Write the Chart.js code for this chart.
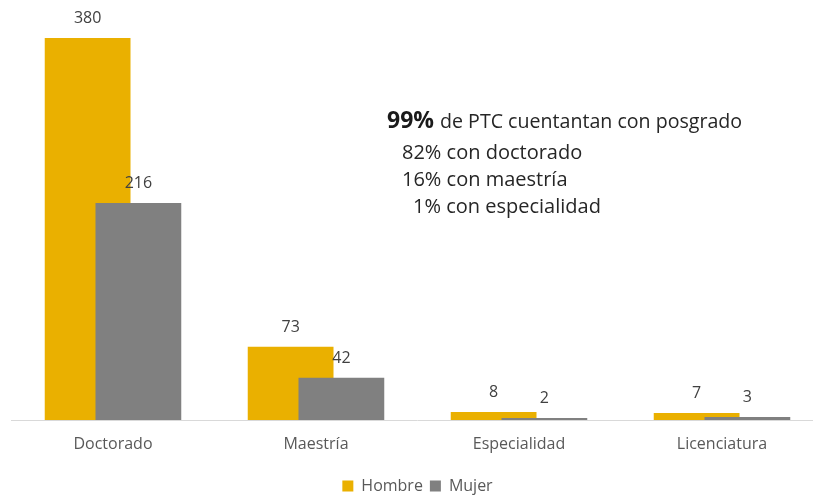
<!DOCTYPE html>
<html>
<head>
<meta charset="utf-8">
<script src="https://cdn.jsdelivr.net/npm/chart.js@4.4.1/dist/chart.umd.min.js"></script>
<style>
html,body{margin:0;padding:0;background:#fff;overflow:hidden;width:813px;height:497px}
#wrap{width:824px;height:504px;position:relative}
</style>
</head>
<body>
<div id="wrap"><canvas id="c" width="824" height="504"></canvas></div>
<script>
// ---- data ----
const categories = ['Doctorado', 'Maestría', 'Especialidad', 'Licenciatura'];
const seriesNames = ['Hombre', 'Mujer'];
const hombre = [380, 73, 8, 7];
const mujer = [216, 42, 2, 3];
const noteHeadline = '99%';
const noteHeadlineRest = 'de PTC cuentantan con posgrado';
const noteLines = ['82% con doctorado', '16% con maestría', '1% con especialidad'];

// ---- styles ----
const colHombre = 'rgb(234,176,0)';
const colMujer = 'rgb(128,128,128)';
const FONT = '"Open Sans", "Noto Sans", sans-serif';

Chart.defaults.font.family = FONT;

// Draw datasets in forward order so the second series lies over the first
const drawOrder = {
  id: 'drawOrder',
  beforeDatasetsDraw(chart) {
    const metas = chart.getSortedVisibleDatasetMetas();
    for (const m of metas) m.controller.draw();
    return false;
  }
};

const valueLabels = {
  id: 'valueLabels',
  afterDraw(chart) {
    const ctx = chart.ctx;
    ctx.save();
    ctx.font = '16px ' + FONT;
    ctx.fillStyle = '#404040';
    ctx.textAlign = 'center';
    ctx.textBaseline = 'middle';
    chart.data.datasets.forEach((ds, i) => {
      const meta = chart.getDatasetMeta(i);
      meta.data.forEach((el, j) => {
        ctx.fillText(String(ds.data[j]), el.x, el.y - 19.5);
      });
    });
    ctx.restore();
  }
};

const note = {
  id: 'note',
  afterDraw(chart) {
    const ctx = chart.ctx;
    ctx.save();
    ctx.textBaseline = 'alphabetic';
    ctx.textAlign = 'left';
    ctx.fillStyle = '#1a1a1a';
    ctx.font = 'bold 23px ' + FONT;
    ctx.fillText(noteHeadline, 387, 128);
    const w = ctx.measureText(noteHeadline).width;
    ctx.fillStyle = '#262626';
    ctx.font = '19.6px ' + FONT;
    ctx.fillText(noteHeadlineRest, 387 + w + 6, 128);
    ctx.font = '20px ' + FONT;
    const xs = [402, 402, 413];
    const ys = [159, 186, 213];
    noteLines.forEach((t, i) => ctx.fillText(t, xs[i], ys[i]));
    ctx.restore();
  }
};

new Chart(document.getElementById('c'), {
  type: 'bar',
  data: {
    labels: categories,
    datasets: [
      { label: seriesNames[0], data: hombre, backgroundColor: colHombre, borderWidth: 0,
        categoryPercentage: 0.5, barPercentage: 1.69 },
      { label: seriesNames[1], data: mujer, backgroundColor: colMujer, borderWidth: 0,
        categoryPercentage: 0.5, barPercentage: 1.69 }
    ]
  },
  options: {
    responsive: false,
    animation: false,
    layout: { padding: { left: 11.5, right: 0.5, top: 18, bottom: 0 } },
    scales: {
      x: {
        grid: { display: false, drawTicks: false },
        border: { display: true, color: '#d9d9d9', width: 1 },
        ticks: { color: '#595959', font: { size: 16 }, padding: 15, maxRotation: 0 },
        afterFit(scale) { scale.height = 51; }
      },
      y: {
        display: false,
        min: 0,
        max: 400
      }
    },
    plugins: {
      legend: {
        position: 'bottom',
        labels: { boxWidth: 11, boxHeight: 11, padding: 7, color: '#595959', font: { size: 16 } }
      },
      tooltip: { enabled: false }
    }
  },
  plugins: [drawOrder, valueLabels, note]
});
</script>
</body>
</html>
